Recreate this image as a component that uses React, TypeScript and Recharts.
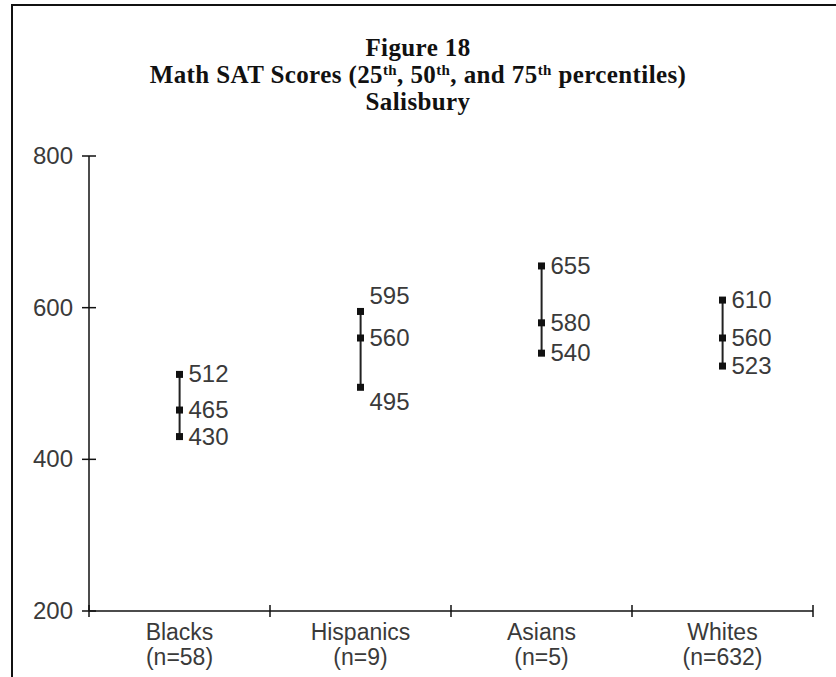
import React from 'react';
import {
  ComposedChart,
  Bar,
  Line,
  XAxis,
  YAxis,
  LabelList,
} from 'recharts';

// data
const groups = ['Blacks', 'Hispanics', 'Asians', 'Whites'];
const counts = ['(n=58)', '(n=9)', '(n=5)', '(n=632)'];
const p25 = [430, 495, 540, 523];
const p50 = [465, 560, 580, 560];
const p75 = [512, 595, 655, 610];
const yTicks = [200, 400, 600, 800];

// label nudges (px) so Hispanics' numbers don't sit on the markers
const nudge25 = [0, 15, 0, 0];
const nudge75 = [0, -15, 0, 0];

const W = 836;
const H = 677;
const PLOT_LEFT = 89;
const PLOT_RIGHT = 813;
const PLOT_TOP = 156;
const PLOT_BOTTOM = 611;
const BAND = (PLOT_RIGHT - PLOT_LEFT) / groups.length;
const TEXT = '#3a3a3a';
const INK = '#111';
const SANS = "'Liberation Sans', Arial, sans-serif";

const data = groups.map((g, i) => ({
  name: g,
  p25: p25[i],
  p50: p50[i],
  p75: p75[i],
}));

const Square = (props: any) => {
  const { cx, cy } = props;
  if (cx == null || cy == null) return null;
  return <rect x={cx - 3.5} y={cy - 3.5} width={7} height={7} fill={INK} />;
};

const RangeLine = (props: any) => {
  const { x, y, width, height } = props;
  const cx = x + width / 2;
  return <line x1={cx} x2={cx} y1={y} y2={y + height} stroke="#222" strokeWidth={2} />;
};

const makeLabel = (nudges: number[]) => (props: any) => {
  const { x, y, value, index } = props;
  return (
    <text x={x + 9} y={y + nudges[index]} dy={8} fontSize={24} fontFamily={SANS} fill={TEXT}>
      {value}
    </text>
  );
};

const CategoryTick = (props: any) => {
  const { x, y, payload, index } = props;
  const left = x - BAND / 2;
  const right = x + BAND / 2;
  return (
    <g>
      <line x1={left} x2={left} y1={y - 6} y2={y + 6} stroke={INK} strokeWidth={1.5} />
      {index === groups.length - 1 && (
        <line x1={right} x2={right} y1={y - 6} y2={y + 6} stroke={INK} strokeWidth={1.5} />
      )}
      <text x={x} y={y + 29} textAnchor="middle" fontSize={23} fontFamily={SANS} fill={TEXT}>
        {payload.value}
      </text>
      <text x={x} y={y + 54} textAnchor="middle" fontSize={23} fontFamily={SANS} fill={TEXT}>
        {counts[index]}
      </text>
    </g>
  );
};

const ValueTick = (props: any) => {
  const { x, y, payload } = props;
  return (
    <g>
      <line x1={x - 7} x2={x + 7} y1={y} y2={y} stroke={INK} strokeWidth={1.5} />
      <text x={x - 16} y={y + 8} textAnchor="end" fontSize={24} fontFamily={SANS} fill={TEXT}>
        {payload.value}
      </text>
    </g>
  );
};

const supStyle: React.CSSProperties = { fontSize: '0.6em', verticalAlign: '0.55em', lineHeight: 0 };

export default function App() {
  return (
    <div style={{ position: 'absolute', left: 0, top: 0, width: W, height: H, background: '#fff' }}>
      <div
        style={{
          position: 'absolute',
          left: 11,
          top: 4,
          right: 0,
          bottom: 0,
          borderTop: '2px solid #111',
          borderLeft: '2px solid #111',
        }}
      />
      <div
        style={{
          position: 'absolute',
          left: 0,
          top: 34,
          width: W,
          textAlign: 'center',
          fontFamily: "'Liberation Serif', 'Times New Roman', serif",
          fontWeight: 'bold',
          fontSize: 25,
          letterSpacing: '0.4px',
          lineHeight: '27px',
          color: '#111',
        }}
      >
        <div>Figure 18</div>
        <div>
          Math SAT Scores (25<sup style={supStyle}>th</sup>, 50<sup style={supStyle}>th</sup>, and 75
          <sup style={supStyle}>th</sup> percentiles)
        </div>
        <div>Salisbury</div>
      </div>
      <div style={{ position: 'absolute', left: 0, top: 0 }}>
        <ComposedChart
          width={W}
          height={H}
          data={data}
          margin={{ top: PLOT_TOP, right: W - PLOT_RIGHT, bottom: H - PLOT_BOTTOM - 60, left: PLOT_LEFT - 80 }}
        >
          <XAxis
            dataKey="name"
            height={60}
            interval={0}
            tickLine={false}
            tickSize={0}
            tickMargin={0}
            axisLine={{ stroke: INK, strokeWidth: 1.5 }}
            tick={<CategoryTick />}
          />
          <YAxis
            width={80}
            domain={[200, 800]}
            ticks={yTicks}
            type="number"
            tickLine={false}
            tickSize={0}
            tickMargin={0}
            axisLine={{ stroke: INK, strokeWidth: 1.5 }}
            tick={<ValueTick />}
          />
          <Bar
            dataKey={(d: any) => [d.p25, d.p75]}
            shape={<RangeLine />}
            isAnimationActive={false}
          />
          <Line dataKey="p25" stroke="none" dot={<Square />} activeDot={false} isAnimationActive={false}>
            <LabelList dataKey="p25" content={makeLabel(nudge25)} />
          </Line>
          <Line dataKey="p50" stroke="none" dot={<Square />} activeDot={false} isAnimationActive={false}>
            <LabelList dataKey="p50" content={makeLabel(p50.map(() => 0))} />
          </Line>
          <Line dataKey="p75" stroke="none" dot={<Square />} activeDot={false} isAnimationActive={false}>
            <LabelList dataKey="p75" content={makeLabel(nudge75)} />
          </Line>
        </ComposedChart>
      </div>
    </div>
  );
}
